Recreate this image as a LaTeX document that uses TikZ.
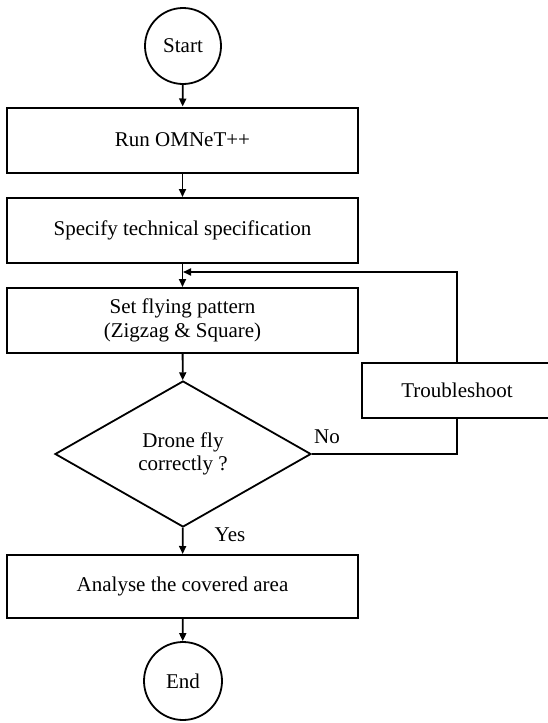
\documentclass[tikz,border=0pt]{standalone}
\usepackage{fontspec}
\setmainfont{Liberation Serif}
\usetikzlibrary{shapes.geometric,arrows.meta}

\begin{document}
\begin{tikzpicture}[x=1pt,y=-1pt,
  font=\fontsize{21}{23.5}\selectfont,
  process/.style={draw,line width=2pt,minimum width=351pt,minimum height=65pt,align=center,inner sep=0pt},
  terminal/.style={draw,circle,line width=1.8pt,minimum size=76pt,inner sep=0pt},
  decision/.style={draw,diamond,line width=1.8pt,minimum width=256pt,minimum height=146pt,align=center,inner sep=0pt},
  flow/.style={line width=1.8pt,-{Triangle[length=8pt,width=7pt]}},
  link/.style={line width=1.8pt}]
\clip (0,0) rectangle (548,723);
% main column
\node[terminal] (start) at (183,46) {Start};
\node[process] (run) at (182.5,140) {Run OMNeT++};
\node[process] (spec) at (182.5,230.5) {Specify technical specification};
\node[process] (pattern) at (182.5,320.5) {Set flying pattern\\(Zigzag \& Square)};
\node[decision] (check) at (183,454) {Drone fly\\correctly ?};
\node[process,minimum height=63pt] (analyse) at (182.5,586.5) {Analyse the covered area};
\node[terminal,minimum size=78pt] (end) at (183,681) {End};
% side branch
\node[process,minimum width=190pt,minimum height=55pt] (fix) at (457,390.5) {Troubleshoot};
\coordinate (merge) at (183,272);
\node (nolabel) at (327,437) {No};
\node (yeslabel) at (230,535) {Yes};
\draw[flow] (start) -- (run);
\draw[flow] (run) -- (spec);
\draw[flow] (spec) -- (pattern);
\draw[flow] (pattern) -- (check);
\draw[flow] (check) -- (analyse);
\draw[flow] (analyse) -- (end);
\draw[link] (check.east) -| (fix.south);
\draw[flow] (fix.north) |- (merge);
\end{tikzpicture}
\end{document}
